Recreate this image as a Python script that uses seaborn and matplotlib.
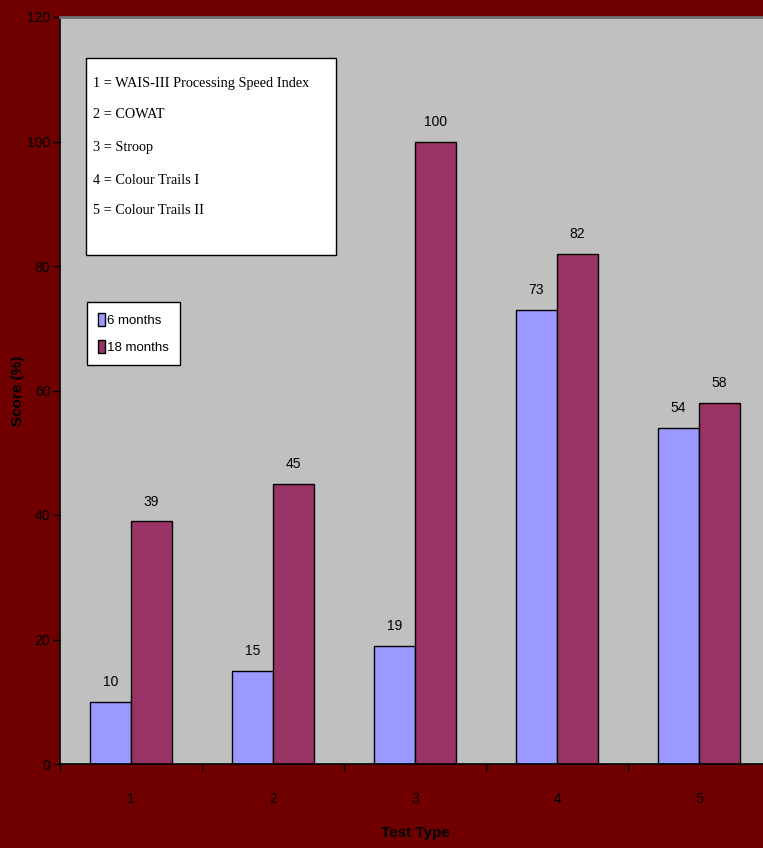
import matplotlib
matplotlib.use("Agg")
import matplotlib.pyplot as plt
import seaborn as sns
import pandas as pd
from matplotlib.patches import Rectangle, Patch
from matplotlib.ticker import FixedLocator

categories = ["1", "2", "3", "4", "5"]
six_months = [10, 15, 19, 73, 54]
eighteen_months = [39, 45, 100, 82, 58]
series_names = ["6 months", "18 months"]
key_lines = ["1 = WAIS-III Processing Speed Index", "2 = COWAT", "3 = Stroop",
             "4 = Colour Trails I", "5 = Colour Trails II"]
y_ticks = [0, 20, 40, 60, 80, 100, 120]

df = pd.DataFrame({
    "Test Type": categories * 2,
    "Score": six_months + eighteen_months,
    "Period": [series_names[0]] * 5 + [series_names[1]] * 5,
})

sns.set_style("white")
plt.rcParams["font.family"] = ["Liberation Sans", "DejaVu Sans"]
plt.rcParams["text.color"] = "black"
plt.rcParams["axes.labelcolor"] = "black"
plt.rcParams["xtick.color"] = "black"
plt.rcParams["ytick.color"] = "black"

W, H = 763, 848
fig = plt.figure(figsize=(W / 100, H / 100), dpi=100)
fig.patch.set_facecolor("#700000")

def fx(px):
    return px / W

def fy(py):
    return 1 - py / H

ax = fig.add_axes([fx(60), fy(764), (770 - 60) / W, (764 - 17) / H])
ax.set_facecolor("#C0C0C0")

colors = ["#9999FF", "#993366"]
sns.barplot(data=df, x="Test Type", y="Score", hue="Period", palette=colors,
            width=0.58, edgecolor="black", linewidth=1.0, ax=ax, legend=False,
            saturation=1)

for cont in ax.containers:
    ax.bar_label(cont, padding=9, fontsize=10, color="black")

ax.set_ylim(0, 120)
ax.set_xlim(-0.5, 4.5)
ax.set_yticks(y_ticks)
ax.set_yticklabels([str(t) for t in y_ticks], fontsize=10)
ax.tick_params(axis="y", direction="out", length=5, width=1, color="black",
               labelcolor="black", pad=2, left=True)
ax.tick_params(axis="x", which="major", length=0, pad=20, labelsize=10, labelcolor="black")
ax.xaxis.set_minor_locator(FixedLocator([-0.5, 0.5, 1.5, 2.5, 3.5, 4.5]))
ax.tick_params(axis="x", which="minor", direction="out", length=5, width=1, color="black", bottom=True)

for s in ["left", "bottom"]:
    ax.spines[s].set_color("black")
    ax.spines[s].set_linewidth(1.2)
ax.spines["top"].set_color("#707070")
ax.spines["top"].set_linewidth(2)
ax.spines["right"].set_visible(False)

ax.set_ylabel("Score (%)", fontsize=11, fontweight="bold", color="black")
ax.yaxis.set_label_coords((25 - 60) / 710, 0.5)
ax.set_xlabel("Test Type", fontsize=11, fontweight="bold", color="black")
ax.xaxis.set_label_coords(0.5, (764 - 826) / 747)

# key box
fig.patches.append(Rectangle((fx(86), fy(255)), (336 - 86) / W, (255 - 58) / H,
                             transform=fig.transFigure, facecolor="white",
                             edgecolor="black", linewidth=1, zorder=5))
ys = [83, 115, 147, 180, 211]
for line, yy in zip(key_lines, ys):
    fig.text(fx(93), fy(yy), line, fontsize=10.3, family=["Liberation Serif"],
             va="center", ha="left", color="black", zorder=6)

handles = [Patch(facecolor=c, edgecolor="black", linewidth=1) for c in colors]
leg = ax.legend(handles, series_names, loc="upper left",
                bbox_to_anchor=(fx(87), fy(302)), bbox_transform=fig.transFigure,
                frameon=True, fancybox=False, fontsize=9.5, handlelength=0.6,
                handleheight=1.2, handletextpad=0.15, borderpad=0.8,
                labelspacing=1.0, borderaxespad=0)
leg.get_frame().set_edgecolor("black")
leg.get_frame().set_facecolor("white")
leg.get_frame().set_linewidth(1)
leg.get_frame().set_alpha(1)

fig.savefig("out.png", dpi=100, facecolor=fig.get_facecolor())
